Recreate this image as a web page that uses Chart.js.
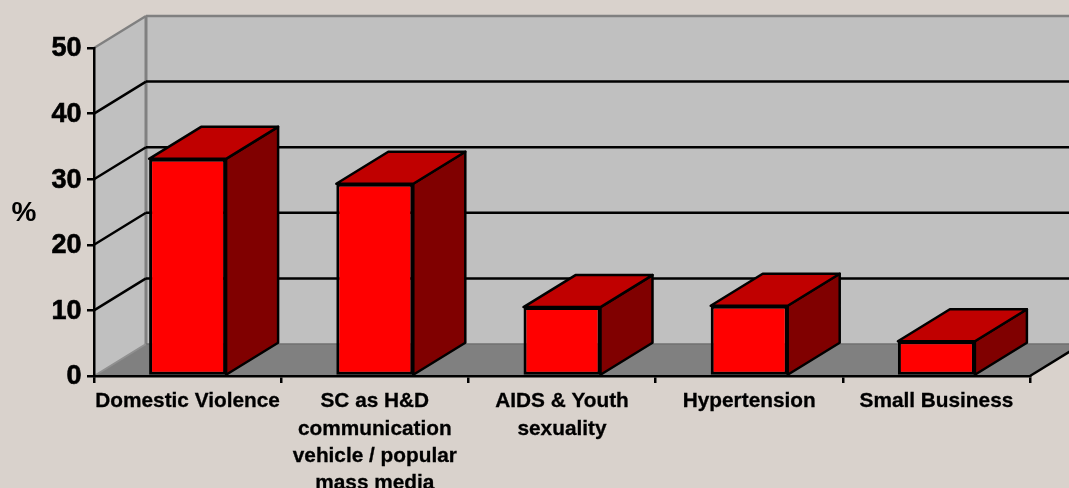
<!DOCTYPE html>
<html>
<head>
<meta charset="utf-8">
<style>
  html, body { margin: 0; padding: 0; background: #D9D2CC; overflow: hidden; }
  canvas { display: block; }
</style>
<script src="https://cdn.jsdelivr.net/npm/chart.js@4"></script>
</head>
<body>
<canvas id="barChart" width="1069" height="488"></canvas>
<script>
const categories = [
    'Domestic Violence',
    ['SC as H&D', 'communication', 'vehicle / popular', 'mass media'],
    ['AIDS & Youth', 'sexuality'],
    'Hypertension',
    'Small Business'
];
const values = [33.1, 29.3, 10.5, 10.7, 5.3];
const axisTitle = '%';
const yMax = 50;
const yStep = 10;

// profundidad del efecto 3D
const depthX = 52;
const depthY = -32;

function poly(ctx, pts, fill, stroke, lw) {
    ctx.beginPath();
    pts.forEach((p, i) => i ? ctx.lineTo(p[0], p[1]) : ctx.moveTo(p[0], p[1]));
    ctx.closePath();
    if (fill) { ctx.fillStyle = fill; ctx.fill(); }
    if (stroke) { ctx.strokeStyle = stroke; ctx.lineWidth = lw; ctx.lineJoin = 'round'; ctx.stroke(); }
}

function line(ctx, x1, y1, x2, y2, color, lw) {
    ctx.beginPath();
    ctx.moveTo(x1, y1);
    ctx.lineTo(x2, y2);
    ctx.strokeStyle = color;
    ctx.lineWidth = lw;
    ctx.stroke();
}

const walls3d = {
    id: 'walls3d',
    beforeDraw(chart) {
        const { ctx, chartArea: a, scales: { y } } = chart;
        const l = a.left, r = a.right, t = a.top, b = a.bottom;
        ctx.save();
        ctx.fillStyle = '#D9D2CC';
        ctx.fillRect(0, 0, chart.width, chart.height);

        // paredes y piso
        poly(ctx, [[l + depthX, t + depthY], [r + depthX, t + depthY], [r + depthX, b + depthY], [l + depthX, b + depthY]], '#C0C0C0');
        poly(ctx, [[l, b], [l + depthX, b + depthY], [l + depthX, t + depthY], [l, t]], '#C0C0C0');
        poly(ctx, [[l, b], [l + depthX, b + depthY], [r + depthX, b + depthY], [r, b]], '#808080');

        // bordes grises
        line(ctx, l, t, l + depthX, t + depthY, '#808080', 2.5);
        line(ctx, l + depthX, t + depthY, r + depthX, t + depthY, '#808080', 2.5);
        line(ctx, l + depthX, t + depthY, l + depthX, b + depthY, '#808080', 3);
        line(ctx, l + depthX, b + depthY, r + depthX, b + depthY, '#707070', 1.5);
        line(ctx, l, b, l + depthX, b + depthY, '#909090', 2);
        line(ctx, r, b, r + depthX, b + depthY, '#000000', 2.5);

        // lineas de grilla
        for (let v = yStep; v < yMax; v += yStep) {
            const py = y.getPixelForValue(v);
            line(ctx, l, py, l + depthX, py + depthY, '#000000', 2.5);
            line(ctx, l + depthX, py + depthY, r + depthX, py + depthY, '#000000', 2.5);
        }
        ctx.restore();
    },
    afterDatasetsDraw(chart) {
        const { ctx, scales: { y } } = chart;
        ctx.save();
        chart.getDatasetMeta(0).data.forEach(bar => {
            const x0 = bar.x - bar.width / 2;
            const x1 = bar.x + bar.width / 2;
            const top = bar.y;
            const base = bar.base;
            poly(ctx, [[x1, base], [x1 + depthX, base + depthY], [x1 + depthX, top + depthY], [x1, top]], '#800000', '#000000', 2.5);
            poly(ctx, [[x0, top], [x0 + depthX, top + depthY], [x1 + depthX, top + depthY], [x1, top]], '#C00000', '#000000', 2.5);
        });
        // titulo del eje, horizontal
        ctx.fillStyle = '#000000';
        ctx.font = "bold 28px 'Liberation Sans', Arial, sans-serif";
        ctx.textAlign = 'center';
        ctx.textBaseline = 'middle';
        ctx.fillText(axisTitle, 24, y.getPixelForValue(yMax / 2) + 1);
        ctx.restore();
    }
};

new Chart(document.getElementById('barChart').getContext('2d'), {
    type: 'bar',
    data: {
        labels: categories,
        datasets: [{
            data: values,
            backgroundColor: '#FF0000',
            borderColor: '#000000',
            borderWidth: 3,
            borderSkipped: false,
            barPercentage: 77 / 187.2,
            categoryPercentage: 1
        }]
    },
    options: {
        responsive: false,
        animation: false,
        layout: { padding: { top: 48, right: 39, left: 0, bottom: 0 } },
        plugins: { legend: { display: false }, tooltip: { enabled: false } },
        scales: {
            x: {
                afterFit: s => { s.height = 112; },
                grid: { drawOnChartArea: false, drawTicks: true, tickLength: 7, color: '#000000', lineWidth: 2.5 },
                border: { color: '#000000', width: 2.5 },
                ticks: {
                    autoSkip: false,
                    maxRotation: 0,
                    minRotation: 0,
                    padding: 5,
                    color: '#000000',
                    textStrokeColor: '#000000',
                    textStrokeWidth: 0.3,
                    font: { family: "'Liberation Sans', Arial, sans-serif", size: 20.8, weight: 'bold', lineHeight: 1.31 }
                }
            },
            y: {
                min: 0,
                max: yMax,
                afterFit: s => { s.width = 94; },
                grid: { drawOnChartArea: false, drawTicks: true, tickLength: 7, color: '#000000', lineWidth: 2.5 },
                border: { color: '#000000', width: 2.5 },
                ticks: {
                    stepSize: yStep,
                    padding: 5.5,
                    labelOffset: 1,
                    color: '#000000',
                    textStrokeColor: '#000000',
                    textStrokeWidth: 0.6,
                    font: { family: "'Liberation Sans', Arial, sans-serif", size: 27, weight: 'bold' }
                }
            }
        }
    },
    plugins: [walls3d]
});
</script>
</body>
</html>
